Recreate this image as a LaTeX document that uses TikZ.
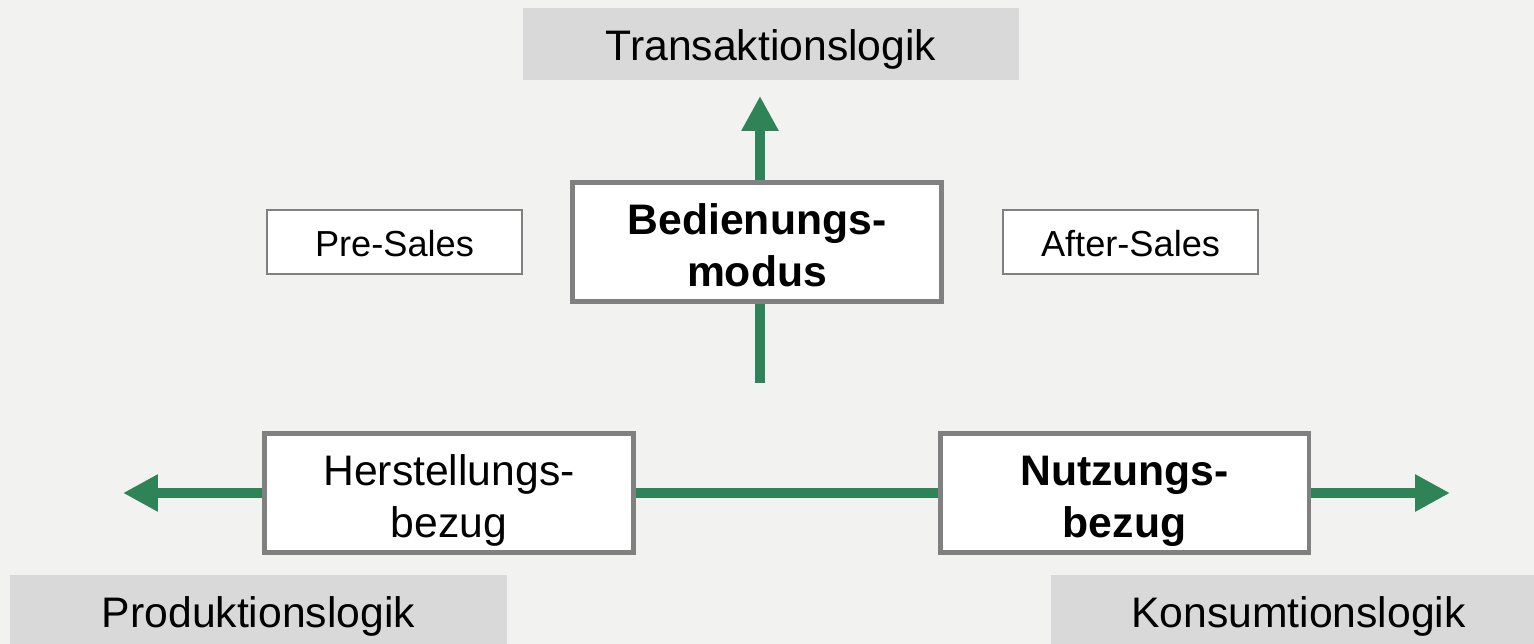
\documentclass[tikz,border=0pt]{standalone}
\usepackage{fontspec}
\setmainfont{Liberation Sans}
\usetikzlibrary{arrows.meta}

% Struts to place the text lines as in the original slide
\newcommand{\hifix}{\rule{0pt}{26pt}}
\newcommand{\lofix}{\rule[-5.1pt]{0pt}{5.1pt}}

\begin{document}
\begin{tikzpicture}[x=0.02cm, y=-0.02cm]
  % Define colors
  \definecolor{bgfill}{RGB}{242,242,240}
  \definecolor{logicfill}{RGB}{217,217,217}
  \definecolor{boxline}{RGB}{128,128,128}
  \definecolor{flowgreen}{RGB}{46,132,87}

  % Styles
  \tikzset{
    bigtext/.style={font=\fontsize{24.3}{29.8}\selectfont, align=center},
    logicbox/.style={bigtext, fill=logicfill, inner sep=0pt},
    mainbox/.style={bigtext, draw=boxline, line width=2.8pt, fill=white,
      minimum width=7.38cm, minimum height=2.38cm, inner sep=0pt},
    sidebox/.style={font=\fontsize{20.6}{25}\selectfont, draw=boxline, line width=1.3pt,
      fill=white, minimum width=5.1cm, minimum height=1.28cm, inner sep=0pt},
    flow/.style={flowgreen, line width=6.2pt},
    flowhead/.style={flow, -{Triangle[length=0.7cm, width=0.7cm]}}
  }

  % Background
  \fill[bgfill] (0,0) rectangle (1534,644);
  \useasboundingbox (0,0) rectangle (1534,644);

  % Logic boxes
  \node[logicbox, minimum width=9.92cm, minimum height=1.44cm] (trans) at (771,44) {\rule{0pt}{24.4pt}Transaktionslogik\lofix};
  \node[logicbox, minimum width=9.94cm, minimum height=1.44cm] (prod) at (258.5,611) {\rule{0pt}{24.4pt}Produktionslogik\lofix};
  \node[logicbox, minimum width=9.9cm, minimum height=1.44cm] (kons) at (1298.5,611) {\rule{0pt}{24.4pt}Konsumtionslogik\lofix};

  % Main boxes
  \node[mainbox] (bed) at (757,242) {\hifix\textbf{Bedienungs-}\\\textbf{modus}\lofix};
  \node[mainbox] (her) at (449,493) {\hifix Herstellungs-\\bezug\lofix};
  \node[mainbox] (nutz) at (1124.5,493) {\hifix\textbf{Nutzungs-}\\\textbf{bezug}\lofix};

  % Side boxes
  \node[sidebox] (pre) at (394.5,242) {\rule{0pt}{17pt}Pre-Sales};
  \node[sidebox] (after) at (1130.5,242) {\rule{0pt}{17pt}After-Sales};

  % Free ends of the arrows
  \coordinate (vbot) at (760,383);
  \coordinate (vtop) at (760,96);
  \coordinate (lend) at (123,493);
  \coordinate (rend) at (1450,493);

  % Vertical arrow
  \draw[flow] (vbot) -- (vbot |- bed.south);
  \draw[flowhead] (vbot |- bed.north) -- (vtop);

  % Horizontal arrows
  \draw[flowhead] (her.west) -- (lend);
  \draw[flow] (her.east) -- (nutz.west);
  \draw[flowhead] (nutz.east) -- (rend);
\end{tikzpicture}
\end{document}
